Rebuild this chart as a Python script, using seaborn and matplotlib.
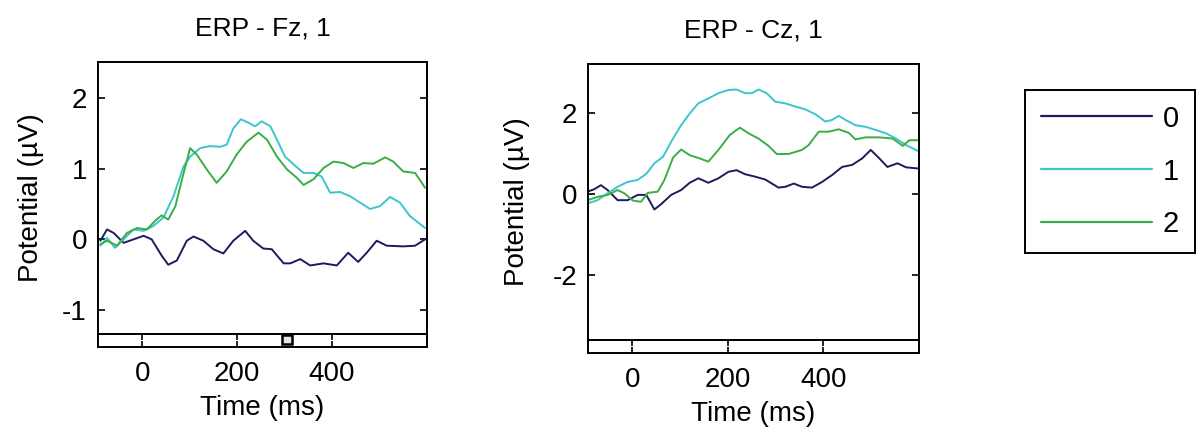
import numpy as np
import pandas as pd
import matplotlib
matplotlib.use("Agg")
import matplotlib.pyplot as plt
import seaborn as sns
from matplotlib.lines import Line2D

# ---------------- data ----------------
conditions = ["0", "1", "2"]
colors = ["#1c1c5c", "#3cc6cc", "#3aae44"]

# Fz channel
fz_t0 = [-88, -74, -60, -39, -18, 3, 20, 41, 55, 73, 94, 108, 129, 150, 171, 192, 217, 234, 255, 273,
         298, 312, 333, 354, 382, 410, 434, 455, 473, 494, 515, 550, 575, 596]
fz_v0 = [-0.02, 0.14, 0.09, -0.05, 0.0, 0.05, 0.0, -0.23, -0.36, -0.30, -0.02, 0.04, -0.02, -0.14, -0.20,
         -0.02, 0.12, -0.02, -0.13, -0.14, -0.34, -0.34, -0.28, -0.37, -0.34, -0.37, -0.19, -0.32, -0.19,
         -0.02, -0.09, -0.10, -0.09, 0.0]
fz_t1 = [-88, -74, -57, -39, -18, 3, 24, 45, 66, 87, 101, 122, 143, 164, 178, 192, 208, 224, 238, 252,
         270, 284, 301, 319, 340, 361, 378, 396, 417, 438, 459, 480, 501, 522, 543, 564, 596]
fz_v1 = [-0.09, 0.02, -0.12, 0.0, 0.14, 0.12, 0.19, 0.31, 0.61, 1.03, 1.17, 1.29, 1.32, 1.31, 1.34, 1.57,
         1.70, 1.65, 1.60, 1.67, 1.60, 1.41, 1.17, 1.06, 0.94, 0.94, 0.89, 0.66, 0.67, 0.61, 0.52, 0.43,
         0.47, 0.60, 0.52, 0.33, 0.16]
fz_t2 = [-88, -74, -53, -32, -11, 10, 27, 41, 55, 70, 84, 101, 115, 136, 157, 178, 199, 220, 245, 263,
         284, 305, 326, 340, 361, 382, 403, 424, 445, 466, 487, 512, 529, 550, 575, 596]
fz_v2 = [-0.07, -0.02, -0.09, 0.09, 0.16, 0.14, 0.26, 0.34, 0.28, 0.47, 0.85, 1.29, 1.20, 0.99, 0.80,
         0.96, 1.20, 1.38, 1.51, 1.41, 1.17, 0.99, 0.87, 0.77, 0.85, 1.01, 1.10, 1.08, 1.01, 1.08, 1.07,
         1.16, 1.10, 0.96, 0.94, 0.73]

# Cz channel
cz_t0 = [-94, -80, -66, -52, -31, -10, 11, 29, 46, 60, 81, 102, 120, 138, 159, 180, 201, 218, 236, 257,
         278, 306, 320, 338, 355, 376, 397, 418, 439, 460, 481, 499, 517, 534, 555, 573, 600]
cz_v0 = [0.06, 0.12, 0.22, 0.10, -0.15, -0.15, -0.02, -0.02, -0.38, -0.25, -0.02, 0.10, 0.28, 0.39, 0.28,
         0.39, 0.55, 0.59, 0.49, 0.43, 0.36, 0.16, 0.18, 0.26, 0.18, 0.16, 0.30, 0.47, 0.67, 0.72, 0.88,
         1.09, 0.88, 0.67, 0.76, 0.66, 0.63]
cz_t1 = [-94, -73, -52, -31, -10, 11, 29, 46, 64, 81, 102, 120, 138, 159, 180, 201, 218, 236, 250, 264,
         281, 299, 320, 341, 362, 383, 404, 418, 432, 446, 467, 488, 510, 531, 552, 573, 600]
cz_v1 = [-0.23, -0.15, 0.02, 0.18, 0.30, 0.35, 0.50, 0.76, 0.92, 1.29, 1.70, 1.99, 2.24, 2.36, 2.49, 2.57,
         2.58, 2.49, 2.49, 2.58, 2.49, 2.28, 2.24, 2.16, 2.09, 1.97, 1.79, 1.83, 1.93, 1.83, 1.70, 1.66,
         1.58, 1.50, 1.37, 1.21, 1.05]
cz_t2 = [-94, -73, -52, -31, -17, 1, 18, 32, 53, 67, 85, 102, 120, 141, 159, 180, 204, 225, 243, 264,
         285, 302, 327, 355, 369, 390, 411, 432, 453, 467, 488, 517, 545, 566, 580, 600]
cz_v2 = [-0.15, -0.07, -0.02, 0.10, 0.02, -0.16, -0.19, 0.03, 0.06, 0.35, 0.90, 1.10, 0.96, 0.88, 0.80,
         1.09, 1.46, 1.64, 1.50, 1.37, 1.19, 0.99, 0.99, 1.09, 1.21, 1.54, 1.54, 1.60, 1.51, 1.35, 1.40,
         1.40, 1.37, 1.19, 1.33, 1.33]

# significance marks in the bottom strip (ms)
fz_sig_start = [294]
fz_sig_end = [316]
cz_sig_start = []
cz_sig_end = []

titles = ["ERP - Fz, 1", "ERP - Cz, 1"]
fz_yticks = [-1, 0, 1, 2]
cz_yticks = [-2, 0, 2]
x_ticks = [0, 200, 400]


def long_frame(times, values):
    rows = []
    for cond, t, v in zip(conditions, times, values):
        for ti, vi in zip(t, v):
            rows.append((ti, vi, cond))
    return pd.DataFrame(rows, columns=["time", "potential", "cond"])


fz_df = long_frame([fz_t0, fz_t1, fz_t2], [fz_v0, fz_v1, fz_v2])
cz_df = long_frame([cz_t0, cz_t1, cz_t2], [cz_v0, cz_v1, cz_v2])

# ---------------- figure ----------------
sns.set_theme(style="white")
plt.rcParams["font.family"] = ["Liberation Sans", "DejaVu Sans"]
plt.rcParams["text.color"] = "black"
plt.rcParams["axes.labelcolor"] = "black"
plt.rcParams["xtick.color"] = "black"
plt.rcParams["ytick.color"] = "black"
FS = 20

W, H = 1202, 441
fig = plt.figure(figsize=(W / 100, H / 100), dpi=100)


def px_axes(x0, y0, x1, y1):
    return fig.add_axes([x0 / W, 1 - y1 / H, (x1 - x0) / W, (y1 - y0) / H])


palette = dict(zip(conditions, colors))
panels = [
    (fz_df, (98, 62, 427, 334), (98, 334, 427, 347), (-1.34, 2.51), fz_yticks, fz_sig_start, fz_sig_end, 13),
    (cz_df, (588, 64, 919, 340), (588, 340, 919, 353), (-3.6, 3.21), cz_yticks, cz_sig_start, cz_sig_end, 16),
]
xlim = (-93, 600)

for i, (df, mbox, sbox, ylim, yt, s0, s1, lpad) in enumerate(panels):
    ax = px_axes(*mbox)
    sns.lineplot(data=df, x="time", y="potential", hue="cond", palette=palette,
                 estimator=None, sort=False, legend=False, linewidth=1.4, ax=ax)
    ax.set_xlim(*xlim)
    ax.set_ylim(*ylim)
    ax.set_xticks([])
    ax.set_yticks(yt)
    ax.set_yticklabels([str(v) for v in yt])
    ax.tick_params(axis="y", direction="in", left=True, right=True, length=5, width=1.2,
                   labelsize=FS, pad=8, colors="black")
    ax.set_xlabel("")
    ax.set_ylabel("Potential (\u00b5V)", fontsize=FS, labelpad=lpad, color="black")
    ax.set_title(titles[i], fontsize=FS - 1, pad=19, color="black")
    for sp in ax.spines.values():
        sp.set_color("black")
        sp.set_linewidth(1.4)

    ax_s = px_axes(*sbox)
    ax_s.set_xlim(*xlim)
    ax_s.set_ylim(0, 1)
    for a, b in zip(s0, s1):
        ax_s.bar((a + b) / 2, 0.69, width=b - a, bottom=0.23, facecolor="#e6e6e6",
                 edgecolor="black", linewidth=1.8)
    ax_s.set_yticks([])
    ax_s.set_xticks(x_ticks)
    ax_s.set_xticklabels([str(v) for v in x_ticks])
    ax_s.tick_params(axis="x", direction="in", top=True, bottom=True, length=4, width=1.2,
                     labelsize=FS, pad=10, colors="black")
    ax_s.set_xlabel("Time (ms)", fontsize=FS, labelpad=6, color="black")
    for sp in ax_s.spines.values():
        sp.set_color("black")
        sp.set_linewidth(1.4)

# legend box
ax_l = px_axes(1025, 90, 1195, 253)
ax_l.set_xticks([])
ax_l.set_yticks([])
for sp in ax_l.spines.values():
    sp.set_color("black")
    sp.set_linewidth(1.4)
handles = [Line2D([], [], color=c, linewidth=1.6) for c in colors]
ax_l.legend(handles, conditions, loc="center", frameon=False, fontsize=FS + 1,
            handlelength=3.8, handletextpad=0.35, labelspacing=0.85, borderaxespad=0,
            labelcolor="black")

fig.savefig("out.png", dpi=100)
